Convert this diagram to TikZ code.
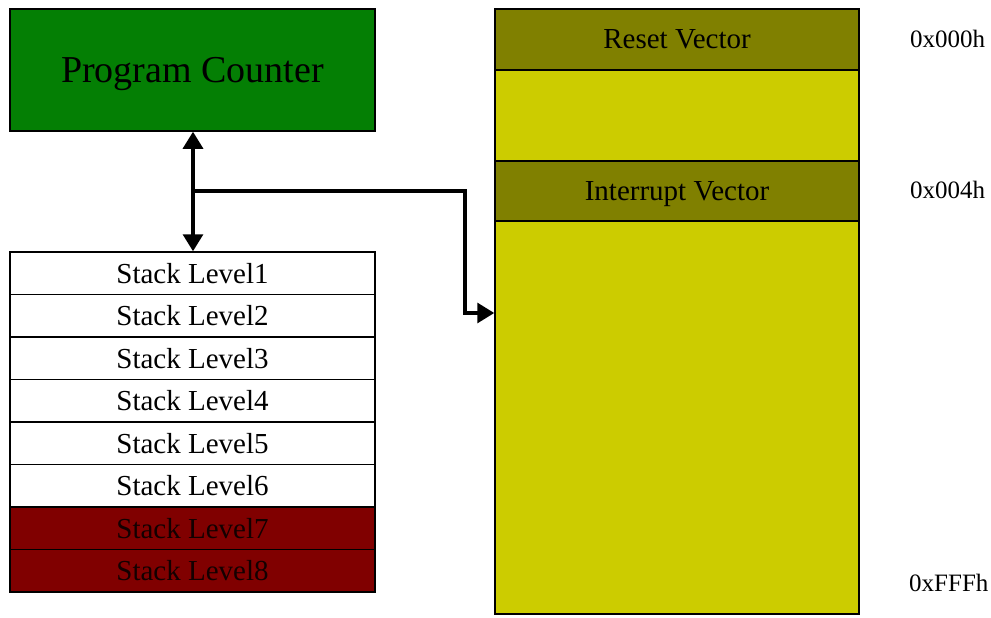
\documentclass[tikz,border=0pt]{standalone}
\usepackage{fontspec}
\setmainfont{Liberation Serif}
\usetikzlibrary{arrows.meta}
\definecolor{pcgreen}{RGB}{4,127,4}
\definecolor{olivebar}{RGB}{128,128,0}
\definecolor{memyellow}{RGB}{204,204,0}
\definecolor{darkred}{RGB}{128,0,0}
\begin{document}
\begin{tikzpicture}[x=1pt,y=-1pt,
  cell/.style={draw=black,line width=1.5pt,inner sep=0pt,anchor=center,text depth=0pt,
    font=\fontsize{29}{30}\selectfont},
  stk/.style={cell,fill=white,minimum width=365pt,minimum height=42.5pt},
  stkred/.style={stk,fill=darkred,text=black!85!darkred},
  mem/.style={cell,minimum width=364pt},
  addr/.style={inner sep=0pt,font=\fontsize{25}{27}\selectfont,anchor=west},
  conn/.style={line width=3.2pt,-{Triangle[width=20pt,length=17pt]}},
  conn2/.style={line width=3.2pt,{Triangle[width=20pt,length=17pt]}-{Triangle[width=20pt,length=17pt]}}
]
\useasboundingbox (0,0) rectangle (991,618);
% Program counter
\node[cell,fill=pcgreen,minimum width=365pt,minimum height=122pt,
  font=\fontsize{38}{40}\selectfont] (pc) at (192.5,70) {Program Counter};
% stack
\node[stk] (s1) at (192.5,273.25) {Stack Level1};
\node[stk] (s2) at (192.5,315.75) {Stack Level2};
\node[stk] (s3) at (192.5,358.25) {Stack Level3};
\node[stk] (s4) at (192.5,400.75) {Stack Level4};
\node[stk] (s5) at (192.5,443.25) {Stack Level5};
\node[stk] (s6) at (192.5,485.75) {Stack Level6};
\node[stkred] (s7) at (192.5,528.25) {Stack Level7};
\node[stkred] (s8) at (192.5,570.75) {Stack Level8};
% memory
\node[mem,fill=olivebar,minimum height=61pt] (m1) at (677,39.5) {Reset Vector};
\node[mem,fill=memyellow,minimum height=91pt] (m2) at (677,115.5) {};
\node[mem,fill=olivebar,minimum height=60pt] (m3) at (677,191) {Interrupt Vector};
\node[mem,fill=memyellow,minimum height=393pt] (m4) at (677,417.5) {};
% addresses
\node[addr] (a0) at (910,39) {0x000h};
\node[addr] (a1) at (910,190) {0x004h};
\node[addr] (a2) at (909,583) {0xFFFh};
% connectors
\draw[conn2] (pc.south -| 193,0) -- (s1.north -| 193,0);
\coordinate (j) at (193,191);
\coordinate (k1) at (465,191);
\coordinate (k2) at (465,313);
\draw[conn] (j) -- (k1) -- (k2) -- (k2 -| m4.west);
\end{tikzpicture}
\end{document}
